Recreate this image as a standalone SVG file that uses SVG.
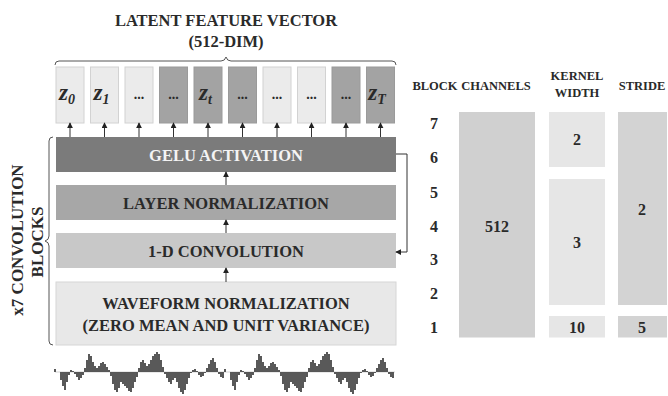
<svg xmlns="http://www.w3.org/2000/svg" xmlns:xlink="http://www.w3.org/1999/xlink" width="668" height="396" viewBox="0 0 668 396">
<defs>
<style>
text{font-family:"Liberation Serif","Times New Roman",serif;font-weight:bold;fill:#2a2a2a}
.ttl{font-size:16.5px;text-anchor:middle}
.vt{font-size:17px;text-anchor:middle}
.lbl{font-size:16.5px;text-anchor:middle}
.hd{font-size:12.5px;text-anchor:middle}
.num{font-size:16px;text-anchor:middle}
.z{font-size:23px;font-style:italic;text-anchor:middle}
.zs{font-size:14px;font-style:italic}
.dots{font-size:14px;text-anchor:middle}
.zl{fill:#ebebeb;stroke:#d2d2d2;stroke-width:1}
.zd{fill:#a3a3a3;stroke:#9a9a9a;stroke-width:1}
.conn{fill:none;stroke:#333;stroke-width:1}
.brace{fill:none;stroke:#555;stroke-width:1}
.wave{fill:none;stroke:#474747;stroke-width:1.8}
</style>
<marker id="ah" viewBox="0 0 8 8" refX="7" refY="4" markerWidth="6" markerHeight="6" orient="auto" markerUnits="userSpaceOnUse">
<path d="M0,0 L8,4 L0,8 z" fill="#222"/>
</marker>
</defs>
<rect width="668" height="396" fill="#ffffff"/>

<g id="title">
<text class="ttl" x="226" y="26">LATENT FEATURE VECTOR</text>
<text class="ttl" x="226" y="47">(512-DIM)</text>
<path class="brace" d="M55,65 Q55,61 59,61 L221,61 Q225,61 226,57 Q227,61 231,61 L392,61 Q396,61 396,65"/>
</g>

<g id="z-vectors">
<g id="z0"><rect class="zl" x="56" y="67" width="28" height="56"/><text class="z" x="67" y="100">z<tspan class="zs" dy="4">0</tspan></text></g>
<g id="z1"><rect class="zl" x="90.5" y="67" width="28" height="56"/><text class="z" x="101.5" y="100">z<tspan class="zs" dy="4">1</tspan></text></g>
<g id="z2"><rect class="zl" x="125" y="67" width="28" height="56"/><text class="dots" x="139" y="99">...</text></g>
<g id="z3"><rect class="zd" x="159.5" y="67" width="28" height="56"/><text class="dots" x="173.5" y="99">...</text></g>
<g id="zt"><rect class="zd" x="194" y="67" width="28" height="56"/><text class="z" x="205.5" y="100">z<tspan class="zs" dy="4">t</tspan></text></g>
<g id="z5"><rect class="zd" x="228.5" y="67" width="28" height="56"/><text class="dots" x="242.5" y="99">...</text></g>
<g id="z6"><rect class="zl" x="263" y="67" width="28" height="56"/><text class="dots" x="277" y="99">...</text></g>
<g id="z7"><rect class="zl" x="297.5" y="67" width="28" height="56"/><text class="dots" x="311.5" y="99">...</text></g>
<g id="z8"><rect class="zd" x="332" y="67" width="28" height="56"/><text class="dots" x="346" y="99">...</text></g>
<g id="zT"><rect class="zd" x="366.5" y="67" width="28" height="56"/><text class="z" x="377" y="100">z<tspan class="zs" dy="4">T</tspan></text></g>
</g>

<g id="gelu"><rect x="56" y="137" width="340" height="35" fill="#7b7b7b"/><text class="lbl" x="226" y="160.5" style="fill:#f4f4f4">GELU ACTIVATION</text></g>
<g id="layernorm"><rect x="56" y="185" width="340" height="35" fill="#a7a7a7"/><text class="lbl" x="226" y="208.5">LAYER NORMALIZATION</text></g>
<g id="conv1d"><rect x="56" y="233" width="340" height="35" fill="#c8c8c8"/><text class="lbl" x="226" y="256.5">1-D CONVOLUTION</text></g>
<g id="waveform-norm"><rect x="56" y="282" width="340" height="63" fill="#e8e8e8" stroke="#d6d6d6" stroke-width="1"/>
<text class="lbl" x="226" y="308.5">WAVEFORM NORMALIZATION</text>
<text class="lbl" x="226" y="330.5">(ZERO MEAN AND UNIT VARIANCE)</text></g>

<g id="conv-blocks-label">
<path class="brace" d="M53,137 Q49,137 49,141 L49,236 Q49,240 45,241 Q49,242 49,246 L49,341 Q49,345 53,345"/>
<text class="vt" transform="translate(23,240) rotate(-90)" x="0" y="0">x7 CONVOLUTION</text>
<text class="vt" transform="translate(43,242) rotate(-90)" x="0" y="0">BLOCKS</text>
</g>

<g id="connectors">
<path class="conn" marker-end="url(#ah)" d="M70,137 V123"/>
<path class="conn" marker-end="url(#ah)" d="M104.5,137 V123"/>
<path class="conn" marker-end="url(#ah)" d="M139,137 V123"/>
<path class="conn" marker-end="url(#ah)" d="M173.5,137 V123"/>
<path class="conn" marker-end="url(#ah)" d="M208,137 V123"/>
<path class="conn" marker-end="url(#ah)" d="M242.5,137 V123"/>
<path class="conn" marker-end="url(#ah)" d="M277,137 V123"/>
<path class="conn" marker-end="url(#ah)" d="M311.5,137 V123"/>
<path class="conn" marker-end="url(#ah)" d="M346,137 V123"/>
<path class="conn" marker-end="url(#ah)" d="M380.5,137 V123"/>
<path class="conn" marker-end="url(#ah)" d="M226,185 V172"/>
<path class="conn" marker-end="url(#ah)" d="M226,233 V220"/>
<path class="conn" marker-end="url(#ah)" d="M226,282 V268"/>
<path class="conn" marker-end="url(#ah)" d="M396,154 H407 V252 H396"/>
</g>

<g id="waveform">
<line x1="55" y1="372" x2="395" y2="372" stroke="#b5b5b5" stroke-width="0.6"/>
<path id="wp" class="wave" d="M55 372v-3M61 372v8M63 372v14M65 372v18M67 372v10M69 372v3M71 372v-2M73 372v-1M75 372v2M77 372v5M79 372v8M81 372v6M83 372v3M85 372v-4M87 372v-12M89 372v-18M91 372v-16M93 372v-10M95 372v-6M97 372v-4M99 372v-6M101 372v-9M103 372v-10M105 372v-8M107 372v-5M109 372v-2M111 372v4M113 372v12M115 372v18M117 372v20M119 372v16M121 372v10M123 372v12M125 372v14M127 372v16M129 372v19M131 372v20M133 372v16M135 372v10M137 372v5M139 372v-4M141 372v-10M143 372v-12M145 372v-9M147 372v-6M149 372v-8M151 372v-12M153 372v-16M155 372v-18M157 372v-20M159 372v-18M161 372v-12M163 372v-5M165 372v2M167 372v6M169 372v10M171 372v12M173 372v8M175 372v6M177 372v10M179 372v16M181 372v20M183 372v22M185 372v18M187 372v12M189 372v6M191 372v1M193 372v-2M195 372v-3M197 372v-1M199 372v3M201 372v5M203 372v4M205 372v1M207 372v-4M209 372v-8M211 372v-12M213 372v-14M215 372v-10M217 372v-4M219 372v2M221 372v5M223 372v6"/>
<use xlink:href="#wp" href="#wp" transform="translate(170,0)"/>
</g>

<g id="table">
<text class="hd" x="435" y="90">BLOCK</text>
<text class="hd" x="496" y="90">CHANNELS</text>
<text class="hd" x="577" y="80">KERNEL</text>
<text class="hd" x="577" y="97">WIDTH</text>
<text class="hd" x="642" y="90">STRIDE</text>
<g id="block-numbers">
<text class="num" x="434" y="129">7</text>
<text class="num" x="434" y="163">6</text>
<text class="num" x="434" y="197.5">5</text>
<text class="num" x="434" y="231.5">4</text>
<text class="num" x="434" y="265">3</text>
<text class="num" x="434" y="299">2</text>
<text class="num" x="434" y="332.5">1</text>
</g>
<g id="channels"><rect x="459" y="112" width="76" height="225.5" fill="#d0d0d0"/><text class="num" x="497" y="232">512</text></g>
<g id="kernel-2"><rect x="549" y="112" width="56" height="55" fill="#e6e6e6"/><text class="num" x="577" y="145">2</text></g>
<g id="kernel-3"><rect x="549" y="179" width="56" height="126" fill="#e6e6e6"/><text class="num" x="577" y="248">3</text></g>
<g id="kernel-10"><rect x="549" y="316" width="56" height="21.5" fill="#e6e6e6"/><text class="num" x="577" y="332.5">10</text></g>
<g id="stride-2"><rect x="618" y="112" width="49" height="193" fill="#d3d3d3"/><text class="num" x="642" y="215">2</text></g>
<g id="stride-5"><rect x="618" y="316" width="49" height="21.5" fill="#d3d3d3"/><text class="num" x="642" y="332.5">5</text></g>
</g>
</svg>
